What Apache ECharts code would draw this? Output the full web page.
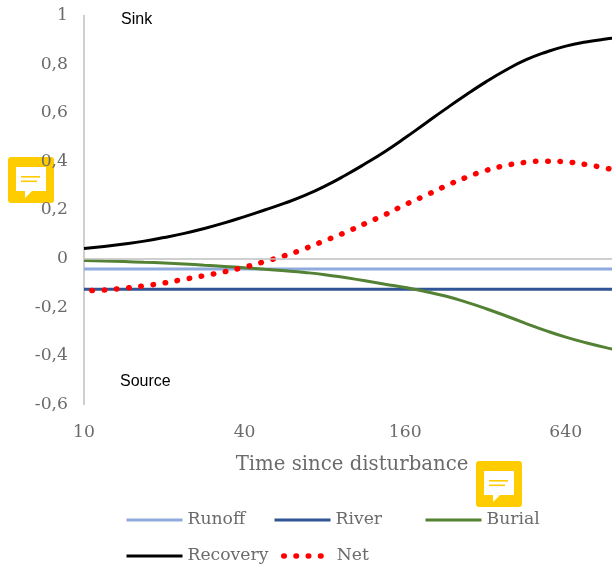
<!DOCTYPE html>
<html><head><meta charset="utf-8">
<style>html,body{margin:0;padding:0;background:#fff;overflow:hidden}#c{width:612px;height:567px}</style>
<script src="https://cdn.jsdelivr.net/npm/echarts@6/dist/echarts.min.js"></script>
</head><body><div id="c"></div>
<script>
const time = [10,12,14,17,20,24,28,34,40,48,57,67,80,95,113,135,160,190,226,269,320,381,453,538,640,761,905,1076];
const runoff = time.map(() => -0.043);
const river = time.map(() => -0.126);
const burial = [-.008,-.010,-.012,-.015,-.018,-.022,-.027,-.032,-.038,-.044,-.050,-.057,-.066,-.078,-.091,-.105,-.119,-.135,-.154,-.178,-.205,-.235,-.266,-.296,-.323,-.346,-.366,-.383];
const recovery = [.042,.050,.060,.072,.087,.104,.124,.147,.173,.200,.228,.260,.298,.342,.390,.441,.497,.556,.615,.672,.726,.775,.817,.849,.874,.891,.903,.912];
const net = [-.132,-.129,-.122,-.112,-.100,-.085,-.070,-.054,-.035,-.012,.012,.041,.074,.107,.144,.181,.222,.259,.298,.333,.362,.383,.396,.401,.398,.387,.372,.354];
const serif = '"DejaVu Serif"';
const txt = '#6b6b6b';
const fs = 17.2;
function line(name, data, color, extra){
  return Object.assign({name, type:'line', data, smooth:0.5, symbol:'none', silent:true,
    lineStyle:{color, width:3}, itemStyle:{color}}, extra||{});
}
function leg(name, left, top, width){
  return {data:[name], left, top, itemWidth:56, itemHeight:14, padding:0,
    itemStyle:{opacity:0}, lineStyle:{width:width||3},
    textStyle:{fontFamily:serif, fontSize:fs, color:txt}};
}
function comment(x,y){
  return {type:'group', x, y, z:100, children:[
    {type:'rect', shape:{x:0,y:0,width:46,height:46,r:3}, style:{fill:'#ffcc00'}},
    {type:'polygon', shape:{points:[[8,10],[38,10],[38,34],[24,34],[17,41],[17,34],[8,34]]}, style:{fill:'#fff'}},
    {type:'rect', shape:{x:13,y:19,width:19,height:1.6}, style:{fill:'#ffcc00'}},
    {type:'rect', shape:{x:13,y:23.5,width:16,height:1.6}, style:{fill:'#ffcc00'}}
  ]};
}
const chart = echarts.init(document.getElementById('c'), null, {renderer:'canvas'});
chart.setOption({
  animation:false,
  backgroundColor:'#fff',
  grid:{left:84, top:15.5, width:542, height:389, containLabel:false, outerBoundsMode:'none'},
  legend:[leg('Runoff',125,511.5),leg('River',273,511.5),leg('Burial',424,511.5),leg('Recovery',125,547.5),leg('Net',273,547.5,5.5)],
  xAxis:{type:'category', data:time, boundaryGap:false,
    axisLine:{show:false,onZero:false}, axisTick:{show:false},
    axisLabel:{interval:7, margin:20, fontFamily:serif, fontSize:fs, color:txt}},
  yAxis:{type:'value', min:-0.6, max:1, interval:0.2,
    axisLine:{show:true, onZero:false, lineStyle:{color:'#bfbfbf',width:1.5}}, axisTick:{show:false},
    splitLine:{show:false},
    axisLabel:{margin:16, padding:[5,0,0,0], fontFamily:serif, fontSize:fs, color:txt,
      formatter:v=>{const r=Math.round(v*10)/10; return String(r).replace('.',',');}}},
  series:[
    line('Runoff',runoff,'#8faadc',{markLine:{silent:true,symbol:'none',label:{show:false},
      lineStyle:{color:'#bfbfbf',width:1.5,type:'solid'},data:[{yAxis:0}]}}),
    line('River',river,'#2f5597'),
    line('Burial',burial,'#548235'),
    line('Recovery',recovery,'#000000'),
    line('Net',net,'#ff0000',{lineStyle:{color:'#ff0000',width:5.5,type:[0.5,11.75],cap:'round',dashOffset:-8}})
  ],
  graphic:[
    {type:'text',x:121,y:12,style:{text:'Sink',font:'16px "Liberation Sans"',fill:'#000'}},
    {type:'text',x:120,y:374,style:{text:'Source',font:'16px "Liberation Sans"',fill:'#000'}},
    {type:'text',x:352,y:455,style:{text:'Time since disturbance',font:'19.7px "DejaVu Serif"',fill:txt,align:'center'}},
    comment(8,157),
    comment(476,461)
  ]
});
</script></body></html>
